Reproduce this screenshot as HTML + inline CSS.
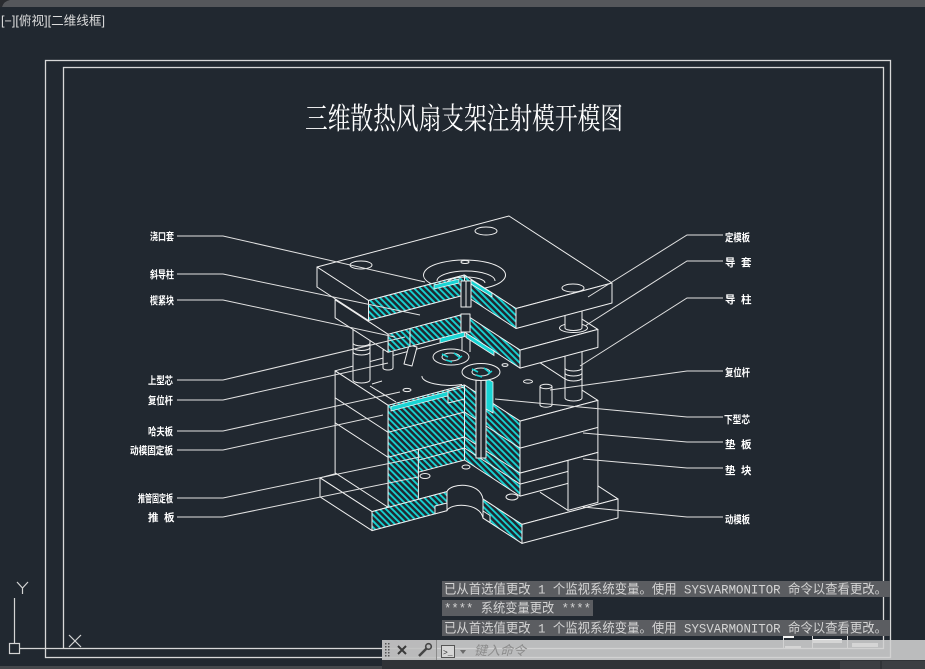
<!DOCTYPE html>
<html><head><meta charset="utf-8">
<style>
html,body{margin:0;padding:0;background:#212830;}
body{width:925px;height:669px;overflow:hidden;position:relative;}
svg{position:absolute;left:0;top:0;}
.f{fill:#212830;stroke:#f0f0f0;stroke-width:1;stroke-linejoin:round;}
.h{fill:url(#ht);stroke:#f0f0f0;stroke-width:1;stroke-linejoin:round;}
.l{fill:none;stroke:#f0f0f0;stroke-width:1;}
.ld{fill:none;stroke:#e2e2e2;stroke-width:1;}
.c{fill:#18d4d4;stroke:#f0f0f0;stroke-width:0.8;}
.lb{font-family:"Liberation Sans","Noto Sans CJK SC",sans-serif;font-size:10.5px;font-weight:bold;fill:#ffffff;}
</style></head><body>
<svg width="925" height="669" viewBox="0 0 925 669" xmlns="http://www.w3.org/2000/svg">
<defs>
<pattern id="ht" patternUnits="userSpaceOnUse" width="4.4" height="4.4" patternTransform="rotate(-45)">
<rect width="4.4" height="4.4" fill="#212830"/>
<rect x="0" y="0" width="1.9" height="4.4" fill="#16d0d0"/>
</pattern>
</defs>
<rect width="925" height="669" fill="#212830"/>
<!-- top bar -->
<rect x="0" y="0" width="925" height="7" fill="#55575b"/>
<path d="M0,0 H10 Q4,1 2,7 H0 Z" fill="#2a2c30"/>
<text x="1" y="25" font-family="'Liberation Sans','Noto Sans CJK SC',sans-serif" font-size="12.5" fill="#dcdcdc" textLength="104" lengthAdjust="spacingAndGlyphs">[−][俯视][二维线框]</text>

<!-- frames -->
<rect x="45.5" y="60.5" width="845" height="597" fill="none" stroke="#d8d8d8" stroke-width="1.3"/>
<rect x="63.5" y="67.5" width="820" height="581" fill="none" stroke="#d8d8d8" stroke-width="1.3"/>

<!-- title -->
<text x="305" y="129" font-family="'Liberation Serif','Noto Serif CJK SC',serif" font-size="30" fill="#ffffff" textLength="318" lengthAdjust="spacingAndGlyphs">三维散热风扇支架注射模开模图</text>

<!-- ============ BOTTOM CLAMP PLATE ============ -->
<path class="f" d="M320,477.8 L508.5,427.7 L618,498.9 L522,524.4 L483,499.1 C480,481 450,483 447,491.6 L372,511.6 Z"/>
<polygon class="f" points="320,477.8 372,511.6 372,530.6 320,496.8"/>
<polygon class="f" points="522,524.4 618,498.9 618,517.9 522,543.4"/>
<polygon class="h" points="372,511.6 447,491.6 447,510.6 372,530.6"/>
<polygon class="h" points="483,499.1 522,524.4 522,543.4 483,518.1"/>
<path class="l" d="M447,510.6 C450,503 480,502 483,518.1"/>
<polygon class="f" points="435,506 447,503 447,510.6 435,513.8"/>
<polygon class="f" points="483,511 490,515.5 490,522.6 483,518.1"/>

<!-- ============ LOWER BLOCK ============ -->
<polygon class="f" points="335.1,370.8 489.4,329.8 597.9,400.4 520,421.1 464.5,385 388.1,405.3"/>
<polygon class="f" points="335.1,370.8 388.1,405.3 388.1,507.3 335.1,472.8"/>
<path class="l" d="M335.1,397.8 L388.1,432.3 M335.1,422.8 L388.1,457.3"/>
<polygon class="f" points="520,421.1 597.9,400.4 597.9,452.4 520,473.1"/>
<path class="l" d="M520,448.1 L597.9,427.4"/>
<polygon class="f" points="568,460.4 597.9,452.4 597.9,502.4 568,510.4"/>
<polygon class="f" points="520,473.1 568,460.4 568,483.4 520,496.1"/>
<path class="l" d="M520,484.1 L568,471.4 M568,510.4 L540,492.2"/>
<!-- cut faces -->
<polygon class="h" points="388.1,405.3 464.5,385 464.5,437 388.1,457.3"/>
<path class="l" d="M388.1,432.3 L464.5,412"/>
<polygon class="h" points="388.1,457.3 418.4,449.2 418.4,499.2 388.1,507.3"/>
<polygon class="h" points="418.4,449.2 464.5,437 464.5,460 418.4,472.2"/>
<path class="l" d="M418.4,460.2 L464.5,448"/>
<polygon class="h" points="464.5,385 520,421.1 520,496.1 464.5,460"/>
<path class="l" d="M464.5,412 L520,448.1 M464.5,437 L520,473.1 M464.5,448 L520,484.1"/>
<!-- cavity strip / core step -->
<polygon class="c" points="391,406.5 464.5,387 464.5,391.5 391,411"/>
<polygon class="h" points="448,391 464.5,387 464.5,399 448,403"/>
<path class="l" d="M336,422 L336,422"/>
<!-- ejector sleeve -->
<rect x="476" y="368" width="10" height="90" class="f"/>
<path class="l" d="M481,368 V458"/>
<polygon class="c" points="486,378 493,382 493,413 486,409"/>
<ellipse cx="466" cy="467" rx="4" ry="2" class="f"/>
<ellipse cx="425" cy="476" rx="5" ry="2.5" class="f"/>
<ellipse cx="512" cy="497" rx="6" ry="3" class="f"/>
<!-- top face small features -->
<ellipse cx="407" cy="390" rx="4" ry="1.6" class="f"/>
<ellipse cx="528" cy="381.5" rx="4.5" ry="1.7" class="f"/>
<ellipse cx="505" cy="365" rx="3" ry="1.4" class="f"/>
<path class="l" d="M370,386 L396,402 M372,384 L382,381"/>

<!-- pillars and pins on lower block -->
<path class="f" d="M353,330 V380 A8.5,3 0 0,0 370,380 V330 Z"/>
<path class="l" d="M353,343 A8.5,3 0 0,0 370,343 M353,347.5 A8.5,3 0 0,0 370,347.5 M353,352 A8.5,3 0 0,0 370,352"/>
<path class="f" d="M565,345 V398 A8.5,3 0 0,0 582,398 V345 Z"/>
<path class="l" d="M565,368 A8.5,3 0 0,0 582,368 M565,373 A8.5,3 0 0,0 582,373 M565,378 A8.5,3 0 0,0 582,378"/>
<path class="f" d="M540,386.5 V405 A6,2.2 0 0,0 552,405 V386.5 Z"/>
<ellipse cx="546" cy="386.5" rx="6" ry="2.2" class="f"/>
<path class="f" d="M383,350 V368 A5,2 0 0,0 393,368 V350 Z"/>
<polygon class="f" points="409,345 417,347 412,366 404,364"/>

<!-- fan part cluster -->
<path class="l" d="M422,376 A28,9 0 0,0 462,384.5"/>
<ellipse cx="481" cy="372" rx="19" ry="8.5" class="f"/>
<ellipse cx="481" cy="372" rx="9" ry="4" class="f"/>
<path d="M472,369 l6,3 M484,368 l5,4 M476,375 l6,2 M488,374 l4,-3" stroke="#18d4d4" stroke-width="1.6" fill="none"/>
<ellipse cx="451" cy="357" rx="18" ry="8" class="f"/>
<ellipse cx="451" cy="357" rx="9" ry="4" class="f"/>
<path d="M442,354 l6,3 M454,353 l5,4 M446,360 l6,2 M458,359 l4,-3" stroke="#18d4d4" stroke-width="1.6" fill="none"/>
<path class="l" d="M462,333 V350 M470,333 V352"/>

<!-- ============ A PLATE (plate 2) ============ -->
<polygon class="f" points="335.1,299.8 489.4,258.8 597.9,329.4 520,350.1 464.5,314 388.1,334.3"/>
<polygon class="f" points="335.1,299.8 388.1,334.3 388.1,352.3 335.1,317.8"/>
<polygon class="h" points="388.1,334.3 464.5,314 464.5,332 388.1,352.3"/>
<polygon class="h" points="464.5,314 520,350.1 520,368.1 464.5,332"/>
<polygon class="f" points="520,350.1 597.9,329.4 597.9,347.4 520,368.1"/>
<path class="l" d="M410,328.5 V346.5"/>
<polygon class="c" points="440,338.4 464.5,332 464.5,336.5 440,343"/>
<polygon class="c" points="466,333 494,351 494,355.5 466,337.5"/>
<rect x="461" y="314" width="9" height="18" class="f"/>
<!-- guide bushing hole + right pillar upper -->
<ellipse cx="573.5" cy="328" rx="14" ry="4.5" class="f"/>
<path class="f" d="M565,298 V328 A8.5,2.5 0 0,0 582,328 V298 Z"/>

<!-- ============ TOP CLAMP PLATE (plate 1) ============ -->
<polygon class="f" points="317,267 509,216 612,283 516,308.5 464.5,275 368.5,300.5"/>
<polygon class="f" points="317,267 368.5,300.5 368.5,320.5 317,287"/>
<polygon class="h" points="368.5,300.5 464.5,275 464.5,295 368.5,320.5"/>
<polygon class="h" points="464.5,275 516,308.5 516,328.5 464.5,295"/>
<polygon class="f" points="516,308.5 612,283 612,303 516,328.5"/>
<ellipse cx="361" cy="265" rx="11" ry="4" class="f"/>
<ellipse cx="486" cy="231" rx="11" ry="4" class="f"/>
<ellipse cx="573" cy="288" rx="11" ry="4" class="f"/>
<path class="l" d="M431.3,283.8 A41,15 0 1,1 484.6,288.1"/>
<path class="l" d="M437,281 A29,10 0 0,1 495,281"/>
<path class="l" d="M447,283 A19,6 0 0,1 485,283"/>
<ellipse cx="465" cy="262" rx="4" ry="1.5" class="f"/>
<polygon class="c" points="434,285 459,279 459,283 434,289"/>
<polygon class="c" points="471,280 492,293 492,297 471,284"/>
<rect x="461" y="281" width="10" height="26" class="f"/>
<path class="l" d="M466,281 V307"/>

<!-- ============ LEADERS ============ -->
<path class="ld" d="M177,236 H223 L425,282"/>
<path class="ld" d="M177,274 H223 L420,315"/>
<path class="ld" d="M177,300 H223 L395,337"/>
<path class="ld" d="M177,380 H223 L405,337"/>
<path class="ld" d="M177,400 H223 L388,363"/>
<path class="ld" d="M177,431 H223 L400,392"/>
<path class="ld" d="M177,450 H223 L383,415"/>
<path class="ld" d="M177,498 H223 L420,457"/>
<path class="ld" d="M177,517 H223 L418,477"/>

<path class="ld" d="M723,235 H687 L588,297"/>
<path class="ld" d="M723,261 H687 L585,326"/>
<path class="ld" d="M723,298 H687 L580,366"/>
<path class="ld" d="M723,371 H687 L550,390"/>
<path class="ld" d="M723,417 H687 L495,399"/>
<path class="ld" d="M723,442 H687 L583,433"/>
<path class="ld" d="M723,468 H687 L583,459"/>
<path class="ld" d="M723,517 H687 L583,507"/>

<!-- ============ LABELS ============ -->
<text class="lb" x="150" y="240" textLength="24" lengthAdjust="spacingAndGlyphs">浇口套</text>
<text class="lb" x="150" y="278" textLength="24" lengthAdjust="spacingAndGlyphs">斜导柱</text>
<text class="lb" x="150" y="304" textLength="24" lengthAdjust="spacingAndGlyphs">楔紧块</text>
<text class="lb" x="148" y="384" textLength="25" lengthAdjust="spacingAndGlyphs">上型芯</text>
<text class="lb" x="148" y="404" textLength="25" lengthAdjust="spacingAndGlyphs">复位杆</text>
<text class="lb" x="148" y="435" textLength="25" lengthAdjust="spacingAndGlyphs">哈夫板</text>
<text class="lb" x="130" y="454" textLength="43" lengthAdjust="spacingAndGlyphs">动模固定板</text>
<text class="lb" x="138" y="502" textLength="35" lengthAdjust="spacingAndGlyphs">推管固定板</text>
<text class="lb" x="148" y="521">推</text>
<text class="lb" x="164" y="521">板</text>

<text class="lb" x="725" y="241" textLength="25" lengthAdjust="spacingAndGlyphs">定模板</text>
<text class="lb" x="725" y="266">导</text>
<text class="lb" x="741" y="266">套</text>
<text class="lb" x="725" y="303">导</text>
<text class="lb" x="741" y="303">柱</text>
<text class="lb" x="725" y="376" textLength="25" lengthAdjust="spacingAndGlyphs">复位杆</text>
<text class="lb" x="724" y="423" textLength="26" lengthAdjust="spacingAndGlyphs">下型芯</text>
<text class="lb" x="725" y="448">垫</text>
<text class="lb" x="741" y="448">板</text>
<text class="lb" x="725" y="474">垫</text>
<text class="lb" x="741" y="474">块</text>
<text class="lb" x="725" y="523" textLength="25" lengthAdjust="spacingAndGlyphs">动模板</text>

<!-- ============ UCS ICON ============ -->
<g stroke="#d4d4d4" stroke-width="1.2" fill="none">
<path d="M14.5,598 V643"/>
<rect x="9.5" y="643.5" width="10" height="10"/>
<path d="M19.5,648.5 H63"/>
<path d="M17,582 L22.5,588 L28,582 M22.5,588 V594"/>
<path d="M69,635 L81,647 M81,635 L69,647"/>
</g>
<rect x="0" y="666" width="382" height="3" fill="#45484c"/>

<!-- title block bits (bottom right) -->
<g stroke="#d8d8d8" stroke-width="1" fill="none">
<path d="M783.5,620 V648 M812.5,620 V648 M847.5,620 V648 M783,620.5 H883"/>
</g>
<rect x="783" y="635" width="11" height="3" fill="#f4f4f4"/>
<rect x="813" y="639" width="29" height="4" fill="#f4f4f4"/>
<rect x="852" y="643" width="26" height="4" fill="#f4f4f4"/>
<rect x="785" y="646" width="16" height="2" fill="#f4f4f4"/>

<!-- ============ COMMAND MESSAGES ============ -->
<g font-family="'Liberation Mono','Noto Sans CJK SC',monospace" font-size="13" fill="#d4d4d4">
<rect x="442" y="581" width="448" height="16" fill="#5b5d61"/>
<text x="444" y="593.5" textLength="443" lengthAdjust="spacingAndGlyphs">已从首选值更改 1 个监视系统变量。使用 SYSVARMONITOR 命令以查看更改。</text>
<rect x="442" y="600" width="151" height="16" fill="#5b5d61"/>
<text x="444" y="612.5" textLength="147" lengthAdjust="spacingAndGlyphs">**** 系统变量更改 ****</text>
<rect x="442" y="620" width="448" height="16" fill="#5b5d61"/>
<text x="444" y="632.5" textLength="443" lengthAdjust="spacingAndGlyphs">已从首选值更改 1 个监视系统变量。使用 SYSVARMONITOR 命令以查看更改。</text>
</g>

<!-- ============ COMMAND BAR ============ -->
<rect x="382" y="640" width="543" height="20" fill="rgba(208,208,208,0.88)"/>
<rect x="382" y="640" width="54" height="20" fill="rgba(185,185,185,0.6)"/>
<rect x="382" y="660" width="543" height="9" fill="#303337"/>
<rect x="840" y="661" width="40" height="8" fill="#3c3f43"/>
<rect x="882" y="661" width="43" height="8" fill="#3c3f43"/>
<line x1="436.5" y1="640" x2="436.5" y2="660" stroke="#8a8a8a"/>
<g fill="#555">
<rect x="385" y="643" width="1.5" height="1.5"/><rect x="385" y="646" width="1.5" height="1.5"/><rect x="385" y="649" width="1.5" height="1.5"/><rect x="385" y="652" width="1.5" height="1.5"/><rect x="385" y="655" width="1.5" height="1.5"/>
<rect x="388" y="643" width="1.5" height="1.5"/><rect x="388" y="646" width="1.5" height="1.5"/><rect x="388" y="649" width="1.5" height="1.5"/><rect x="388" y="652" width="1.5" height="1.5"/><rect x="388" y="655" width="1.5" height="1.5"/>
</g>
<path d="M398,646 L406,654 M406,646 L398,654" stroke="#3a3a3a" stroke-width="2"/>
<path d="M419,656 L427,648" stroke="#454545" stroke-width="2.5"/>
<circle cx="428.5" cy="646.5" r="2.8" fill="none" stroke="#454545" stroke-width="1.6"/>
<rect x="441.5" y="645.5" width="13" height="12" fill="#d6d6d6" stroke="#555"/>
<text x="443" y="655" font-family="'Liberation Mono',monospace" font-size="8" fill="#333">&gt;_</text>
<path d="M460,650 L466,650 L463,654 Z" fill="#6a6a6a"/>
<text x="474" y="655" font-family="'Liberation Sans','Noto Sans CJK SC',sans-serif" font-size="13" font-style="italic" fill="#8c8c8c">键入命令</text>
</svg>
</body></html>
